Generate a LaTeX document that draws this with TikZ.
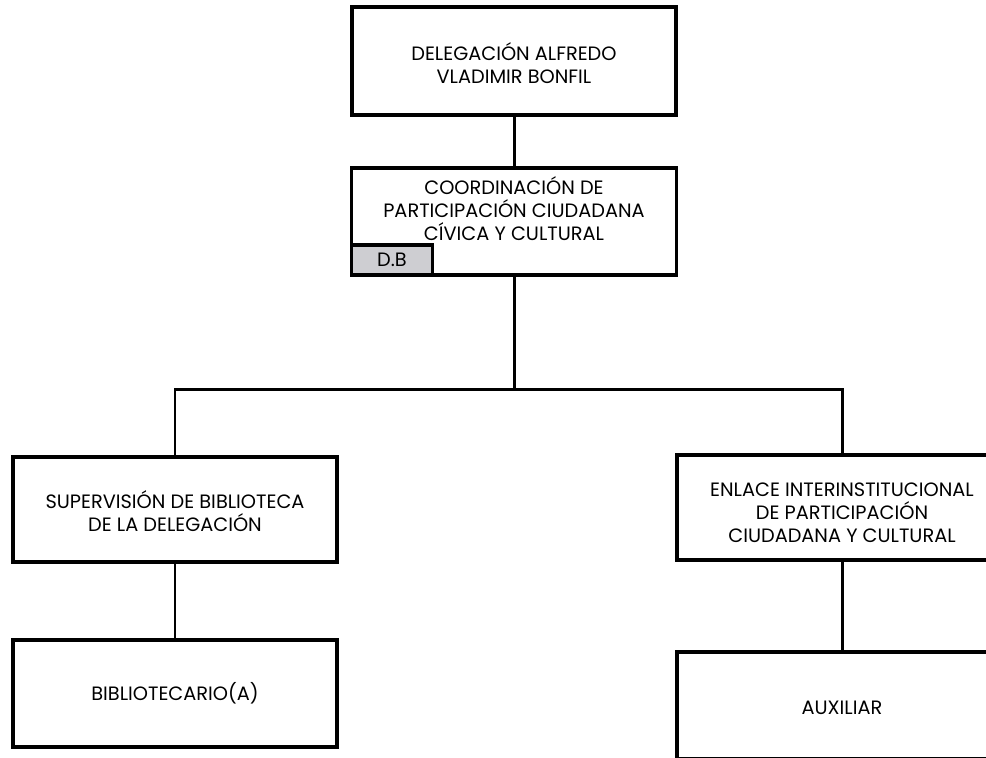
\documentclass[tikz,border=0pt]{standalone}
\usepackage{fontspec}
\setmainfont{Poppins}
\usetikzlibrary{positioning,calc}
\definecolor{dbgray}{RGB}{206,206,210}

\begin{document}
\begin{tikzpicture}[
    box/.style={draw,line width=2.2pt,fill=white,inner sep=0pt},
    txt/.style={align=center,font=\fontsize{11}{13.1}\selectfont},
    link/.style={line width=1.7pt}]
    \useasboundingbox (0,0) rectangle (19.72,-15.14);
    \clip (0,0) rectangle (19.72,-15.14);

    \node [box,minimum width=6.48cm,minimum height=2.16cm] (del) at (10.28,-1.22) {} ;
    \node [txt] (deltxt) at (10.28,-1.27) {DELEGACIÓN ALFREDO\\VLADIMIR BONFIL} ;
    \node [box,minimum width=6.5cm,minimum height=2.14cm] (coord) at (10.28,-4.43) {} ;
    \node [txt] (coordtxt) at (10.28,-4.18) {COORDINACIÓN DE\\PARTICIPACIÓN CIUDADANA\\CÍVICA Y CULTURAL} ;
    \node [box,fill=dbgray,minimum width=1.62cm,minimum height=0.6cm,anchor=south west,txt] (db) at (coord.south west) {D.B} ;

    \node [box,minimum width=6.48cm,minimum height=2.1cm] (sup) at (3.5,-10.19) {} ;
    \node [txt] (suptxt) at (3.5,-10.22) {SUPERVISIÓN DE BIBLIOTECA\\DE LA DELEGACIÓN} ;
    \node [box,minimum width=6.6cm,minimum height=2.1cm] (enl) at (16.84,-10.15) {} ;
    \node [txt] (enltxt) at (16.84,-10.26) {ENLACE INTERINSTITUCIONAL\\DE PARTICIPACIÓN\\CIUDADANA Y CULTURAL} ;
    \node [box,minimum width=6.48cm,minimum height=2.14cm] (bib) at (3.5,-13.87) {} ;
    \node [txt] (bibtxt) at (3.5,-13.87) {BIBLIOTECARIO(A)} ;
    \node [box,minimum width=6.6cm,minimum height=2.14cm] (aux) at (16.84,-14.11) {} ;
    \node [txt] (auxtxt) at (16.84,-14.16) {AUXILIAR} ;

    \coordinate (bus) at (10.28,-7.78) ;

    \draw [link] (del.south) -- (coord.north);
    \draw [link] (coord.south) -- (bus);
    \draw [link] (bus) -| (sup.north);
    \draw [link] (bus) -| (enl.north);
    \draw [link] (sup.south) -- (bib.north);
    \draw [link] (enl.south) -- (aux.north);
\end{tikzpicture}
\end{document}
